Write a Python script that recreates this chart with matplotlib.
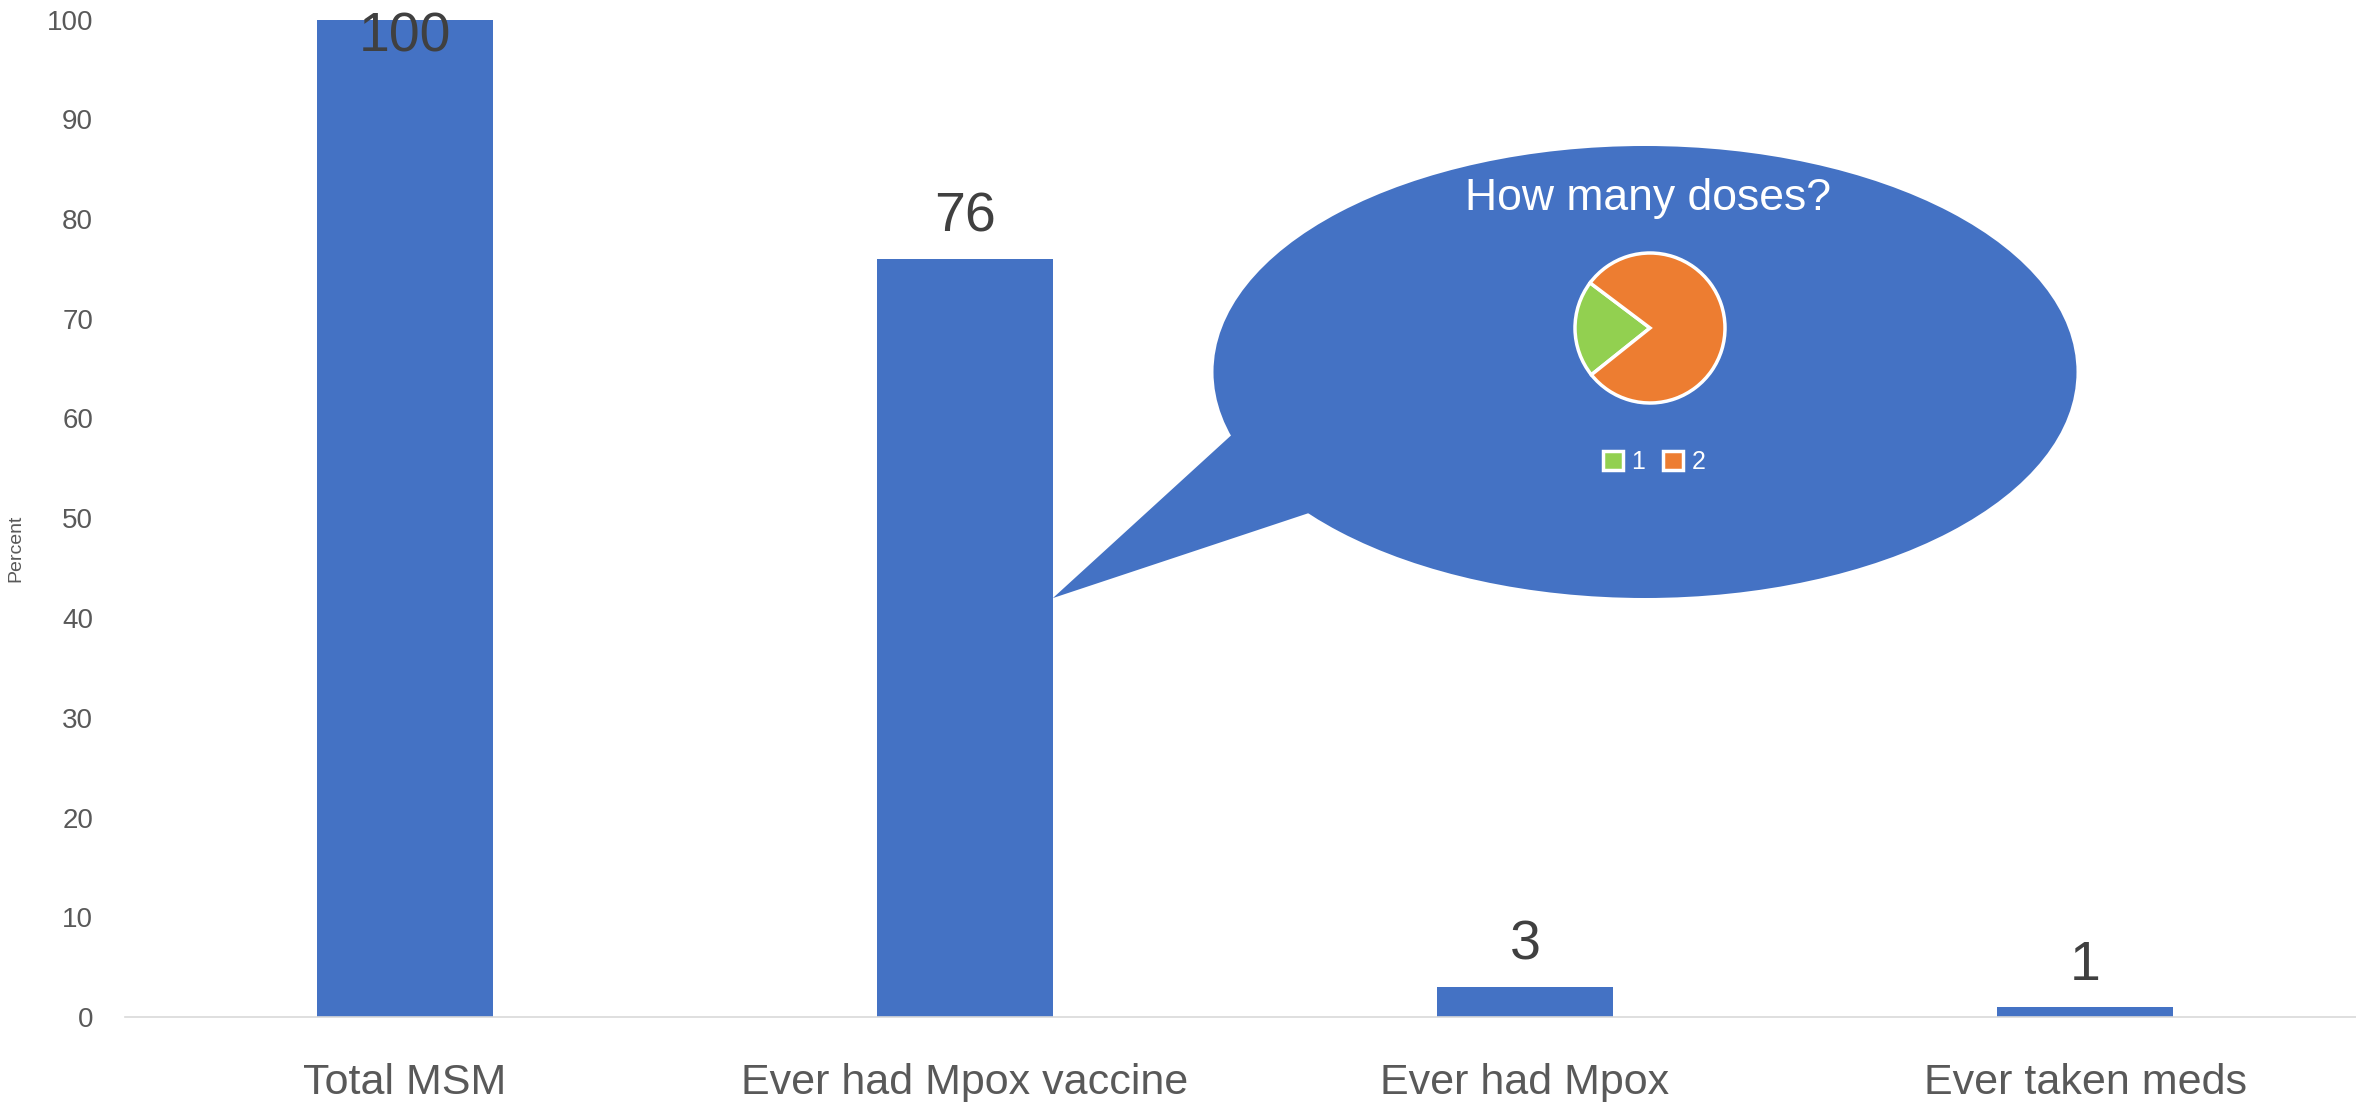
import numpy as np
import matplotlib
matplotlib.use("Agg")
import matplotlib.pyplot as plt
from matplotlib.patches import Ellipse, Polygon

plt.rcParams['font.family'] = ['Liberation Sans', 'DejaVu Sans']

# chart data
categories = ["Total MSM", "Ever had Mpox vaccine", "Ever had Mpox", "Ever taken meds"]
percent = [100, 76, 3, 1]
y_ticks = list(range(0, 101, 10))

# inset pie: number of vaccine doses
dose_labels = ["1", "2"]
dose_share = [21, 79]
callout_value = 42  # where the callout points on the vaccine bar

BLUE = "#4472C4"
GREEN = "#92D050"
ORANGE = "#ED7D31"
W, H = 2356, 1102

fig = plt.figure(figsize=(W / 100, H / 100), dpi=100)
ax = fig.add_axes([125 / W, 85 / H, 2240 / W, 997.5 / H])

x = np.arange(len(categories))
bar_w = 0.314
ax.bar(x, percent, width=bar_w, color=BLUE, zorder=2)

ax.set_xlim(-0.5, len(categories) - 0.5)
ax.set_ylim(0, 100)
ax.set_yticks(y_ticks)
ax.set_xticks(x)
ax.set_xticklabels(categories)
ax.tick_params(axis='x', length=0, pad=33, labelsize=31, labelcolor="#595959")
ax.tick_params(axis='y', length=0, pad=23, labelsize=20, labelcolor="#595959")
for s in ["top", "right", "left"]:
    ax.spines[s].set_visible(False)
ax.spines["bottom"].set_color("#D9D9D9")
ax.spines["bottom"].set_linewidth(1.2)

ax.set_ylabel("Percent", fontsize=14, color="#595959")
ax.yaxis.set_label_coords(-0.045, 0.47)

# value labels (the full bar keeps its label inside the plot area)
for i, v in enumerate(percent):
    off = 19.5 if v < 90 else -23.4
    ax.annotate(str(v), (i, v), xytext=(0, off), textcoords='offset points',
                ha='center', va='baseline', fontsize=40, color="#404040", zorder=3)

# speech bubble overlay in pixel coordinates
ov = fig.add_axes([0, 0, 1, 1], zorder=5)
ov.set_xlim(0, W)
ov.set_ylim(H, 0)
ov.axis('off')
ov.patch.set_alpha(0)

fig.canvas.draw()
tip = ax.transData.transform((x[1] + bar_w / 2, callout_value))
tip = (tip[0], H - tip[1])
ov.add_patch(Ellipse((1645, 372), 863, 452, facecolor=BLUE, edgecolor='none'))
ov.add_patch(Polygon([(1237, 430), (1318, 510), tip], closed=True,
                     facecolor=BLUE, edgecolor='none'))

fig.text(1648 / W, 1 - 210 / H, "How many doses?", ha='center', va='baseline',
         color='white', fontsize=32, zorder=6)

r_px = 75
lim = 1.05
side = 2 * r_px * lim
axp = fig.add_axes([(1650 - side / 2) / W, (H - 328 - side / 2) / H, side / W, side / H], zorder=6)
wedges, _ = axp.pie(dose_share, colors=[GREEN, ORANGE], startangle=143,
                    wedgeprops=dict(edgecolor='white', linewidth=2.5))
axp.set_xlim(-lim, lim)
axp.set_ylim(-lim, lim)
axp.set_aspect('equal')
axp.axis('off')
for wd in wedges:
    wd.set_clip_on(False)

leg = fig.legend(wedges, dose_labels, loc='center', ncol=2, frameon=False,
                 bbox_to_anchor=(1654 / W, 1 - 462 / H), bbox_transform=fig.transFigure,
                 fontsize=18, handlelength=0.8, handleheight=0.8, handletextpad=0.35,
                 columnspacing=0.7, labelcolor='white')
leg.set_zorder(7)

fig.savefig("out.png", dpi=100)
